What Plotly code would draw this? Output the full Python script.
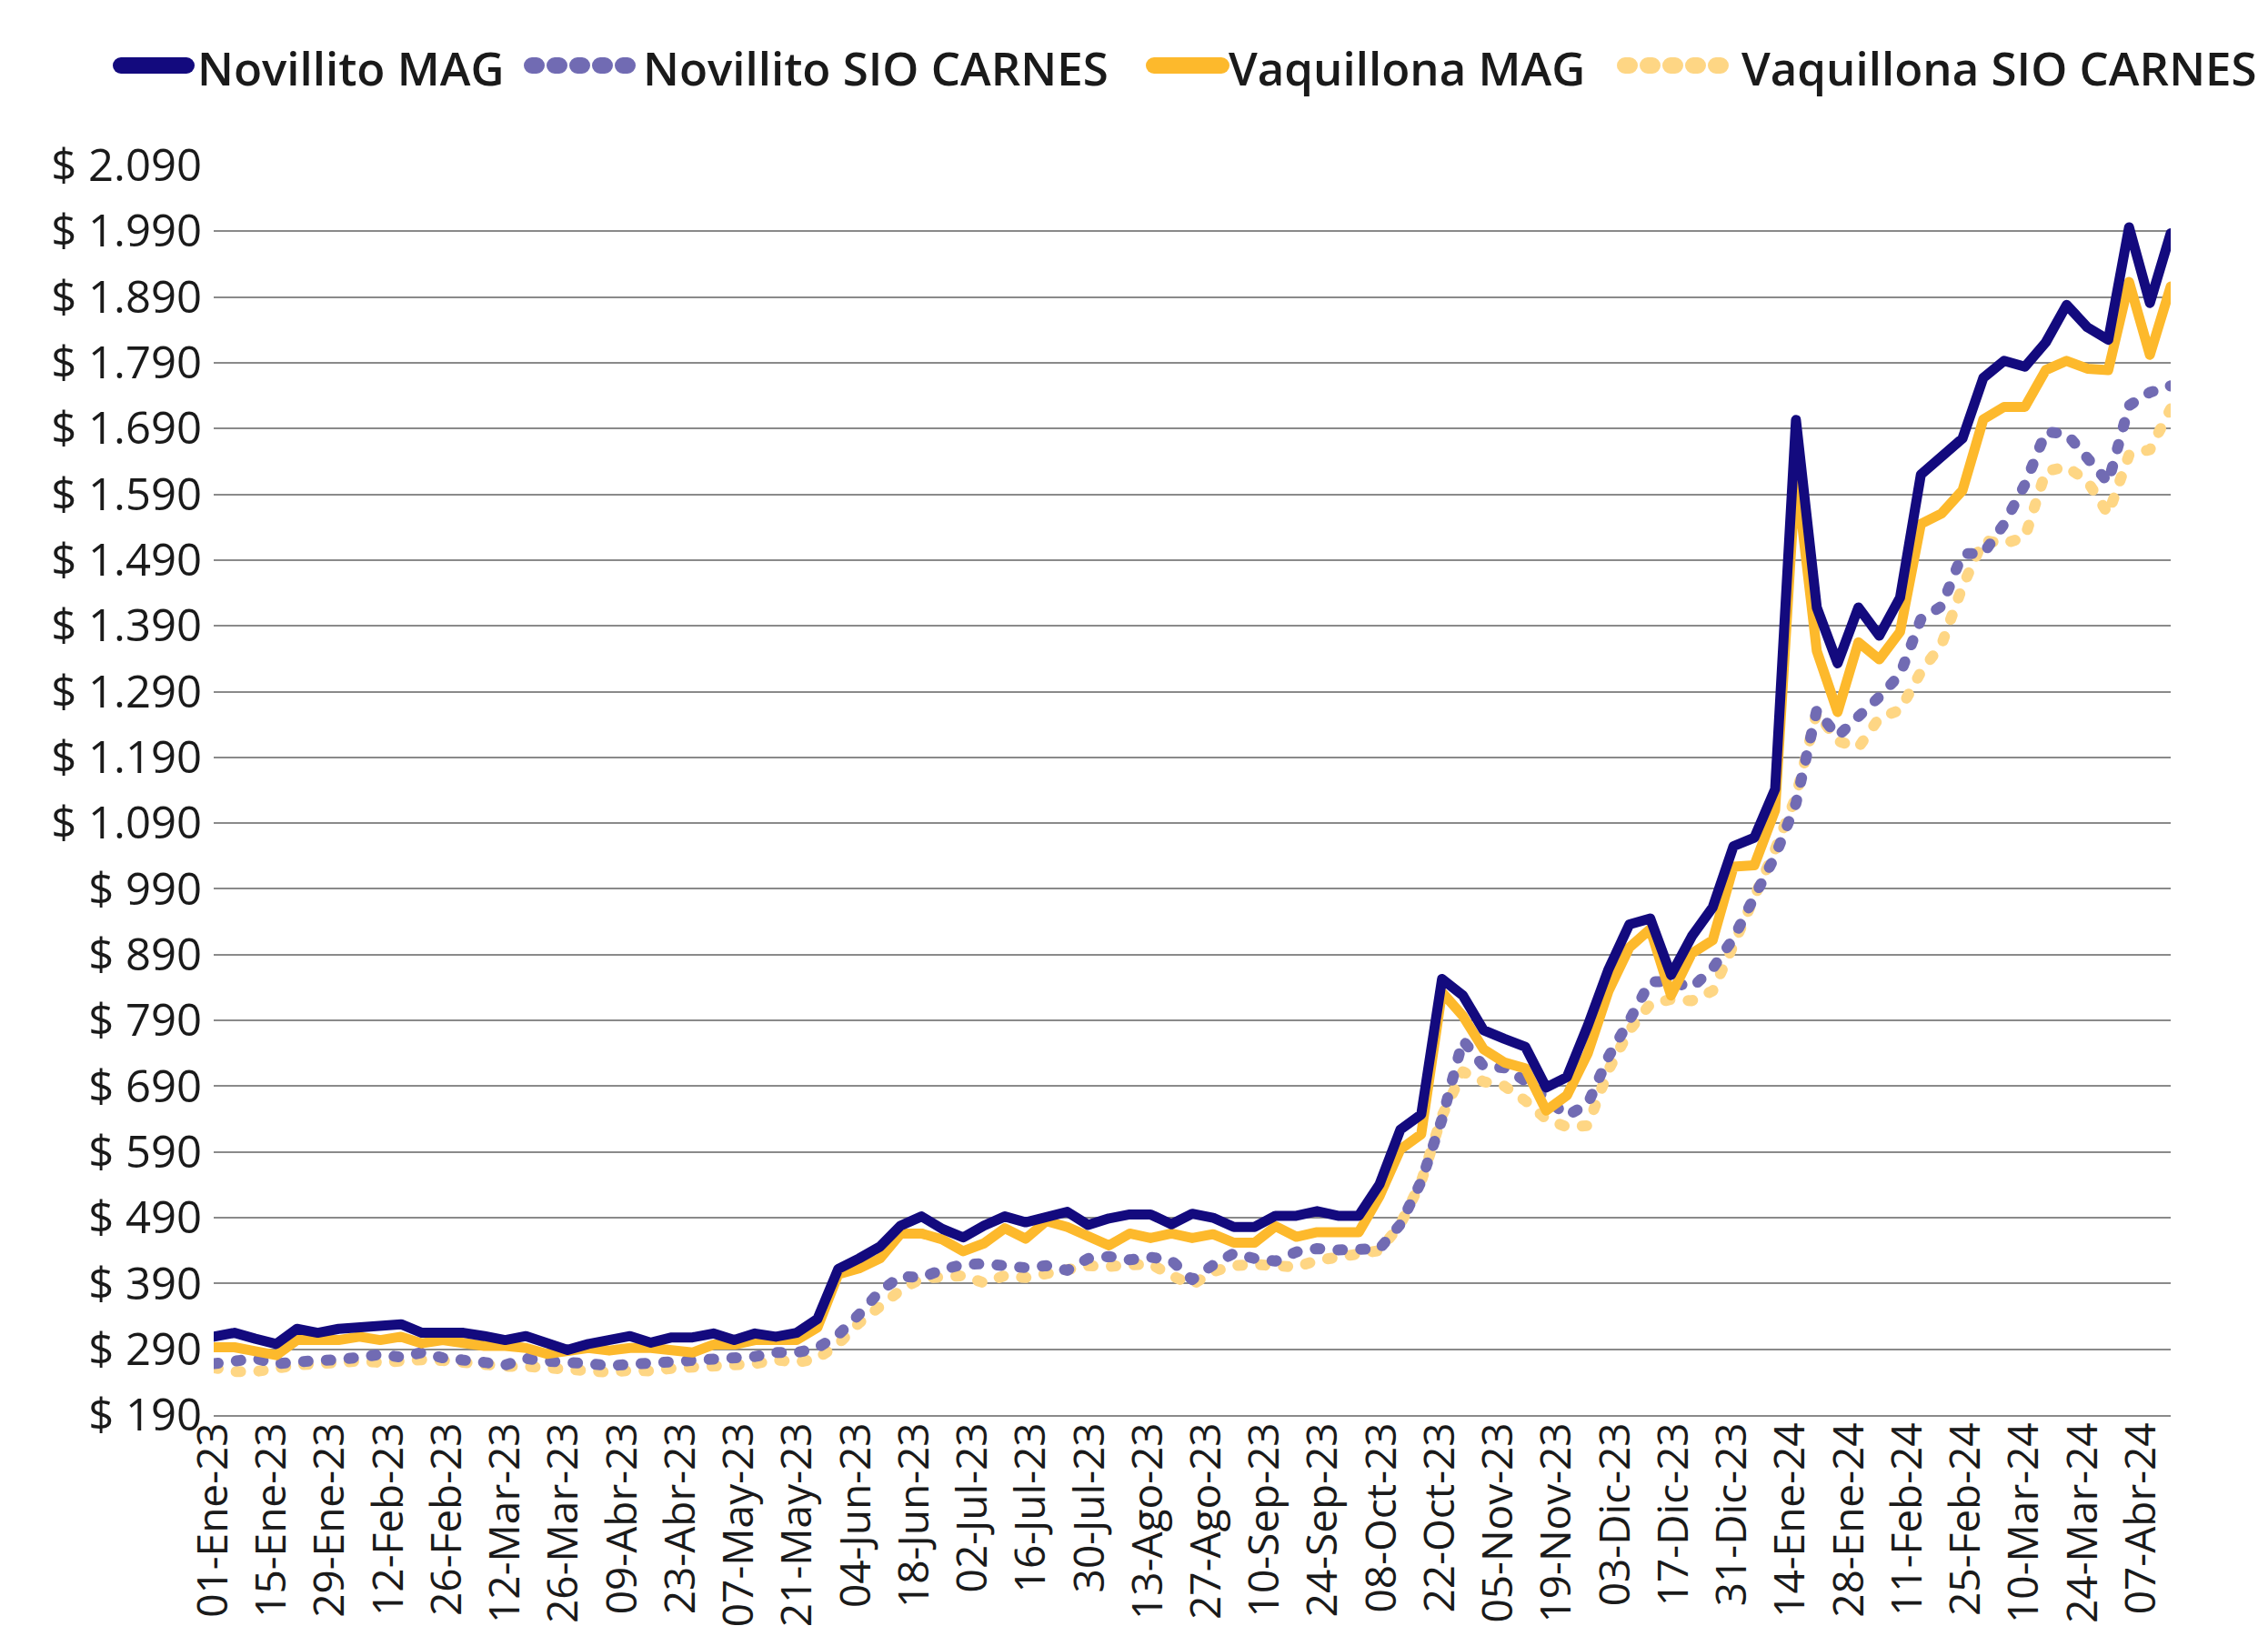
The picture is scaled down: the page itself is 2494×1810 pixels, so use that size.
import pandas as pd
import plotly.graph_objects as go

# ---------------- data ----------------
series_names = ["Novillito MAG", "Novillito SIO CARNES", "Vaquillona MAG", "Vaquillona SIO CARNES"]

novillito_mag = [309, 315, 306, 298, 321, 315, 321, 324, 328, 328,
                 315, 315, 315, 310, 304, 310, 299, 289, 298, 304,
                 310, 300, 308, 308, 314, 304, 314, 309, 315, 336,
                 412, 428, 446, 478, 492, 473, 460, 478, 492, 483,
                 492, 499, 479, 489, 495, 495, 480, 496, 490, 476,
                 476, 493, 493, 500, 493, 493, 541, 624, 647, 853,
                 828, 775, 762, 750, 688, 704, 782, 868, 936, 945,
                 859, 918, 962, 1055, 1068, 1142, 1703, 1418, 1333, 1418,
                 1375, 1433, 1620, 1646, 1675, 1767, 1793, 1784, 1821, 1878,
                 1844, 1825, 1996, 1881, 1987]

novillito_sio = [268, 272, 276, 268, 272, 273, 274, 280, 282, 278,
                 285, 277, 275, 270, 266, 276, 272, 268, 268, 265,
                 267, 268, 269, 272, 275, 277, 279, 285, 285, 292,
                 312, 343, 378, 401, 399, 411, 419, 420, 417, 414,
                 417, 410, 428, 431, 426, 430, 425, 396, 418, 436,
                 428, 424, 438, 443, 441, 443, 443, 480, 545, 640,
                 760, 720, 718, 698, 672, 645, 663, 735, 790, 849,
                 849, 840, 869, 915, 978, 1040, 1120, 1262, 1222, 1250,
                 1282, 1316, 1400, 1420, 1500, 1500, 1545, 1605, 1685, 1682,
                 1643, 1608, 1725, 1745, 1755]

vaquillona_mag = [293, 293, 287, 281, 304, 304, 304, 309, 304, 309,
                  299, 304, 299, 295, 295, 292, 283, 288, 292, 288,
                  292, 292, 290, 285, 297, 297, 304, 304, 304, 323,
                  404, 413, 428, 466, 466, 457, 439, 451, 474, 458,
                  485, 476, 463, 448, 466, 459, 466, 459, 465, 452,
                  452, 477, 461, 468, 468, 468, 523, 594, 617, 833,
                  797, 746, 726, 717, 653, 676, 740, 835, 901, 929,
                  828, 892, 912, 1024, 1026, 1110, 1625, 1352, 1259, 1365,
                  1339, 1381, 1545, 1561, 1596, 1704, 1723, 1723, 1779, 1793,
                  1781, 1779, 1913, 1802, 1906]

vaquillona_sio = [262, 256, 256, 262, 266, 268, 272, 272, 270, 274,
                  274, 273, 270, 264, 264, 264, 262, 262, 258, 255,
                  258, 257, 261, 262, 262, 266, 268, 274, 270, 276,
                  298, 330, 355, 380, 398, 402, 402, 391, 402, 399,
                  404, 412, 417, 416, 420, 420, 402, 388, 408, 417,
                  419, 416, 415, 425, 429, 432, 440, 480, 545, 645,
                  712, 697, 690, 668, 640, 628, 630, 715, 775, 815,
                  822, 820, 835, 905, 975, 1050, 1130, 1259, 1215, 1205,
                  1250, 1262, 1320, 1362, 1450, 1520, 1515, 1525, 1625, 1632,
                  1610, 1560, 1650, 1658, 1720]

tick_labels = ["01-Ene-23", "15-Ene-23", "29-Ene-23", "12-Feb-23", "26-Feb-23", "12-Mar-23",
               "26-Mar-23", "09-Abr-23", "23-Abr-23", "07-May-23", "21-May-23", "04-Jun-23",
               "18-Jun-23", "02-Jul-23", "16-Jul-23", "30-Jul-23", "13-Ago-23", "27-Ago-23",
               "10-Sep-23", "24-Sep-23", "08-Oct-23", "22-Oct-23", "05-Nov-23", "19-Nov-23",
               "03-Dic-23", "17-Dic-23", "31-Dic-23", "14-Ene-24", "28-Ene-24", "11-Feb-24",
               "25-Feb-24", "10-Mar-24", "24-Mar-24", "07-Abr-24"]

start_date = "2023-01-01"
end_date = "2024-04-14"

y_min, y_max, y_step = 190, 2090, 100

# ---------------- helpers ----------------
MONTHS = {"Ene": 1, "Feb": 2, "Mar": 3, "Abr": 4, "May": 5, "Jun": 6,
          "Jul": 7, "Ago": 8, "Sep": 9, "Oct": 10, "Nov": 11, "Dic": 12}


def label_to_date(lbl):
    d, m, y = lbl.split("-")
    return pd.Timestamp(year=2000 + int(y), month=MONTHS[m], day=int(d))


tick_dates = [label_to_date(t) for t in tick_labels]
x_dates = pd.date_range(start_date, end_date, periods=len(novillito_mag))

# ---------------- styles ----------------
NAVY = "#130a7e"
PURPLE = "#716bb3"
GOLD = "#fdb92c"
LIGHTGOLD = "#fed684"
TXT = "#1a1a1a"
FONT = "Open Sans"

W, H = 2494, 1810
ML, MR, MT, MB = 227, 115, 174, 262
PW, PH = W - ML - MR, H - MT - MB

fig = go.Figure()

DOT_PLOT = "5px,20px"
series = [
    (series_names[0], novillito_mag, NAVY, "solid", 11),
    (series_names[1], novillito_sio, PURPLE, DOT_PLOT, 12),
    (series_names[2], vaquillona_mag, GOLD, "solid", 11),
    (series_names[3], vaquillona_sio, LIGHTGOLD, DOT_PLOT, 12),
]
# draw order: dotted underneath as in the reference
for idx in [3, 1, 2, 0]:
    name, vals, col, dash, wd = series[idx]
    fig.add_trace(go.Scatter(x=x_dates, y=vals, mode="lines", name=name,
                             line=dict(color=col, width=wd, dash=dash),
                             showlegend=False))

# ---------------- custom legend (long symbols like the original) ----------------
def px_x(p):
    return (p - ML) / PW


def px_y(p):
    return (H - MB - p) / PH


leg_y = 64
leg_sym = [(125, 197), (577, 683), (1261, 1335), (1779, 1885)]
leg_txt = [207, 697, 1341, 1905]
for i, (name, vals, col, dash, wd) in enumerate(series):
    x0, x1 = leg_sym[i]
    fig.add_shape(type="line", xref="paper", yref="paper",
                  x0=px_x(x0), x1=px_x(x1), y0=px_y(leg_y), y1=px_y(leg_y),
                  line=dict(color=col, width=18,
                            dash="solid" if dash == "solid" else "5px,20px"))
    fig.add_annotation(text=name, xref="paper", yref="paper",
                       x=px_x(leg_txt[i]), y=px_y(leg_y + 2),
                       xanchor="left", yanchor="middle", showarrow=False,
                       font=dict(family=FONT, size=51, color=TXT, weight=600))

fig.update_layout(
    width=W, height=H,
    margin=dict(l=ML, r=MR, t=MT, b=MB),
    paper_bgcolor="white", plot_bgcolor="white",
    separators=",.",
    font=dict(family=FONT, color=TXT),
    showlegend=False,
)

fig.update_xaxes(
    type="date",
    range=[start_date, end_date],
    tickmode="array", tickvals=tick_dates, ticktext=tick_labels,
    tickangle=-90,
    tickfont=dict(family=FONT, size=46, color=TXT),
    showgrid=False, zeroline=False,
    showline=True, linecolor="#8a8a8a", linewidth=2,
    ticks="", ticklabelstandoff=-12,
)

fig.update_yaxes(
    range=[y_min, y_max],
    tickmode="linear", tick0=y_min, dtick=y_step,
    tickformat=",d", tickprefix="$ ",
    tickfont=dict(family=FONT, size=49, color=TXT),
    showgrid=True, gridcolor="#8a8a8a", gridwidth=2,
    zeroline=False, showline=False, ticks="", ticklabelstandoff=12,
)

post = """
var gd = document.getElementById('{plot_id}');
var st = document.createElement('style');
st.textContent = '.js-line, .shapelayer path { stroke-linecap: round !important; stroke-linejoin: round !important; }';
document.head.appendChild(st);
function roundCaps(){
  gd.querySelectorAll('path.js-line, .shapelayer path').forEach(function(p){
    p.style.strokeLinecap = 'round';
    p.style.strokeLinejoin = 'round';
  });
}
roundCaps();
if (gd.on) { gd.on('plotly_afterplot', roundCaps); }
"""

fig.write_html("out.html", post_script=post)
